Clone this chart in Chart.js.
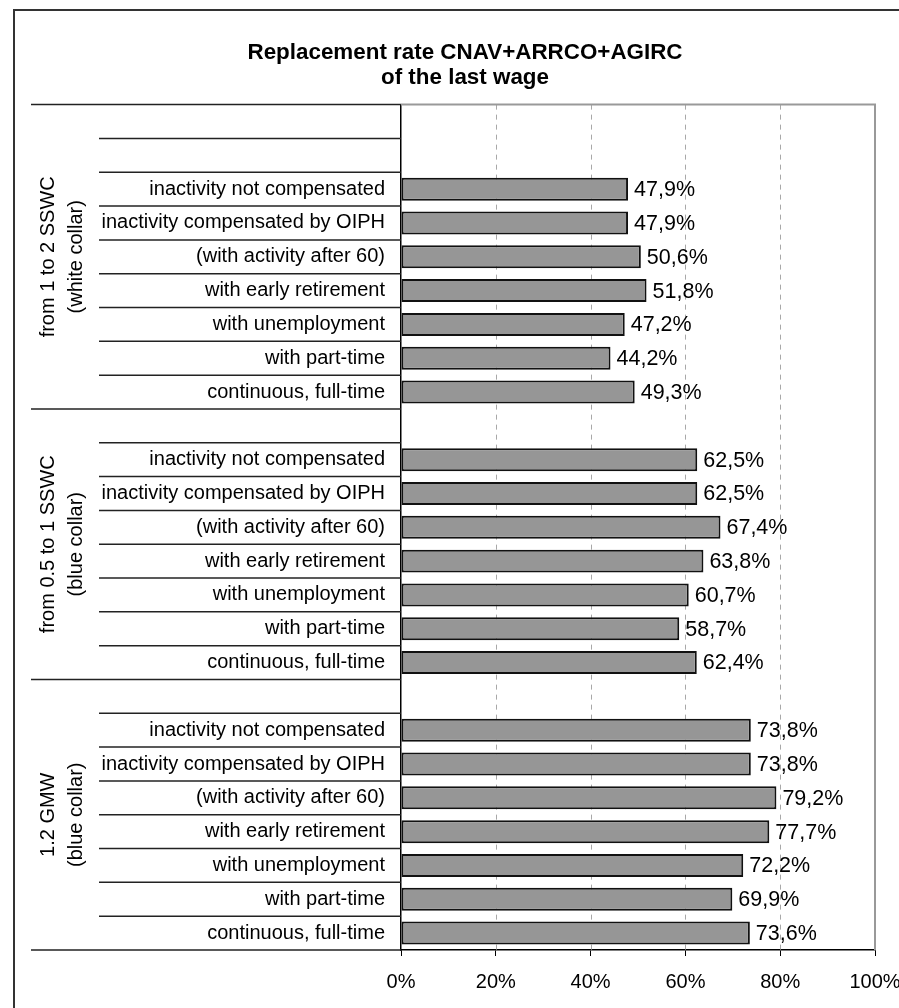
<!DOCTYPE html>
<html>
<head>
<meta charset="utf-8">
<script src="https://cdn.jsdelivr.net/npm/chart.js@4/dist/chart.umd.min.js"></script>
<style>
  html, body { margin: 0; padding: 0; background: #fff; }
  #wrap { width: 899px; height: 1008px; position: relative; }
</style>
</head>
<body>
<div id="wrap"><canvas id="chart"></canvas></div>
<script>
const scenarios = [
  'inactivity not compensated',
  'inactivity compensated by OIPH',
  '(with activity after 60)',
  'with early retirement',
  'with unemployment',
  'with part-time',
  'continuous, full-time'
];
const groupNames = [
  ['from 1 to 2 SSWC', '(white collar)'],
  ['from 0.5 to 1 SSWC', '(blue collar)'],
  ['1.2 GMW', '(blue collar)']
];
const blankRows = [2, 1, 1];
const whiteCollar = [47.9, 47.9, 50.6, 51.8, 47.2, 44.2, 49.3];
const blueCollar = [62.5, 62.5, 67.4, 63.8, 60.7, 58.7, 62.4];
const gmw = [73.8, 73.8, 79.2, 77.7, 72.2, 69.9, 73.6];
const xTicks = [0, 20, 40, 60, 80, 100];

const FONT = "'Liberation Sans', Arial, sans-serif";

// rows top -> bottom, blank rows at the head of each group
const labels = [];
const values = [];
const groupRanges = [];
[whiteCollar, blueCollar, gmw].forEach((vals, g) => {
  const start = labels.length;
  for (let i = 0; i < blankRows[g]; i++) { labels.push(''); values.push(null); }
  scenarios.forEach((s, i) => { labels.push(s); values.push(vals[i]); });
  groupRanges.push([start, labels.length - 1]);
});

function fmt(v) {
  return v.toFixed(1).replace('.', ',') + '%';
}

const decor = {
  id: 'decor',
  beforeDraw(chart) {
    const ctx = chart.ctx;
    ctx.save();
    ctx.fillStyle = '#fff';
    ctx.fillRect(0, 0, chart.width, chart.height);
    ctx.strokeStyle = '#333';
    ctx.lineWidth = 2;
    ctx.strokeRect(14, 10, chart.width + 20, chart.height + 20);
    ctx.restore();
  },
  beforeDatasetsDraw(chart) {
    const { ctx, chartArea: a, scales: { x } } = chart;
    ctx.save();
    ctx.strokeStyle = '#a8a8a8';
    ctx.lineWidth = 1;
    ctx.setLineDash([5, 5]);
    xTicks.slice(1, -1).forEach(v => {
      const px = Math.round(x.getPixelForValue(v)) + 0.5;
      ctx.beginPath();
      ctx.moveTo(px, a.top);
      ctx.lineTo(px, a.bottom);
      ctx.stroke();
    });
    ctx.setLineDash([]);
    ctx.strokeStyle = '#999';
    ctx.lineWidth = 2;
    ctx.beginPath();
    ctx.moveTo(a.left, a.top);
    ctx.lineTo(a.right, a.top);
    ctx.lineTo(a.right, a.bottom);
    ctx.stroke();
    ctx.restore();
  },
  afterDatasetsDraw(chart) {
    const { ctx, chartArea: a, scales: { y } } = chart;
    const band = (a.bottom - a.top) / labels.length;
    ctx.save();

    // row separators in the label area
    ctx.strokeStyle = '#222';
    ctx.lineWidth = 1.5;
    for (let i = 0; i <= labels.length; i++) {
      const py = y.getPixelForValue(Math.min(i, labels.length - 1)) + (i === labels.length ? band / 2 : -band / 2);
      const isGroupEdge = groupRanges.some(r => r[0] === i) || i === labels.length;
      ctx.beginPath();
      ctx.moveTo(isGroupEdge ? 31 : 99, py);
      ctx.lineTo(a.left, py);
      ctx.stroke();
    }

    // group labels, rotated
    ctx.fillStyle = '#000';
    ctx.font = '20px ' + FONT;
    ctx.textAlign = 'center';
    ctx.textBaseline = 'middle';
    groupRanges.forEach((r, g) => {
      const top = y.getPixelForValue(r[0]) - band / 2;
      const bottom = y.getPixelForValue(r[1]) + band / 2;
      const cy = (top + bottom) / 2;
      [48, 76].forEach((cx, k) => {
        ctx.save();
        ctx.translate(cx, cy);
        ctx.rotate(-Math.PI / 2);
        ctx.fillText(groupNames[g][k], 0, 0);
        ctx.restore();
      });
    });

    // value labels
    ctx.font = '21.5px ' + FONT;
    ctx.textAlign = 'left';
    const meta = chart.getDatasetMeta(0);
    meta.data.forEach((bar, i) => {
      if (values[i] == null) return;
      ctx.fillText(fmt(values[i]), bar.x + 6, bar.y + 1);
    });
    ctx.restore();
  }
};

new Chart(document.getElementById('chart'), {
  type: 'bar',
  data: {
    labels: labels,
    datasets: [{
      data: values,
      backgroundColor: '#969696',
      borderColor: '#111',
      borderWidth: 2,
      borderSkipped: false,
      barPercentage: 0.68,
      categoryPercentage: 1
    }]
  },
  options: {
    indexAxis: 'y',
    responsive: true,
    maintainAspectRatio: false,
    animation: false,
    devicePixelRatio: 1,
    layout: { padding: { left: 55, right: 24, top: 0, bottom: 0 } },
    plugins: {
      legend: { display: false },
      tooltip: { enabled: false },
      title: {
        display: true,
        text: ['Replacement rate CNAV+ARRCO+AGIRC', 'of the last wage'],
        color: '#000',
        font: { family: FONT, size: 22.4, weight: 'bold', lineHeight: 1.13 },
        padding: { top: 40, bottom: 14 }
      }
    },
    scales: {
      x: {
        min: 0,
        max: 100,
        ticks: {
          stepSize: 20,
          color: '#000',
          font: { family: FONT, size: 20 },
          padding: 14,
          maxRotation: 0,
          callback: v => v + '%'
        },
        grid: { drawOnChartArea: false, drawTicks: true, tickLength: 6, color: '#000' },
        border: { color: '#000', width: 1.5 },
        afterFit: s => { s.height = 58; s.paddingLeft = 0; s.paddingRight = 0; }
      },
      y: {
        ticks: {
          color: '#000',
          font: { family: FONT, size: 20 },
          padding: 16,
          autoSkip: false
        },
        grid: { drawOnChartArea: false, drawTicks: false },
        border: { color: '#000', width: 1.5 },
        afterFit: s => { s.width = 346; s.paddingTop = 0; s.paddingBottom = 0; }
      }
    }
  },
  plugins: [decor]
});
</script>
</body>
</html>
